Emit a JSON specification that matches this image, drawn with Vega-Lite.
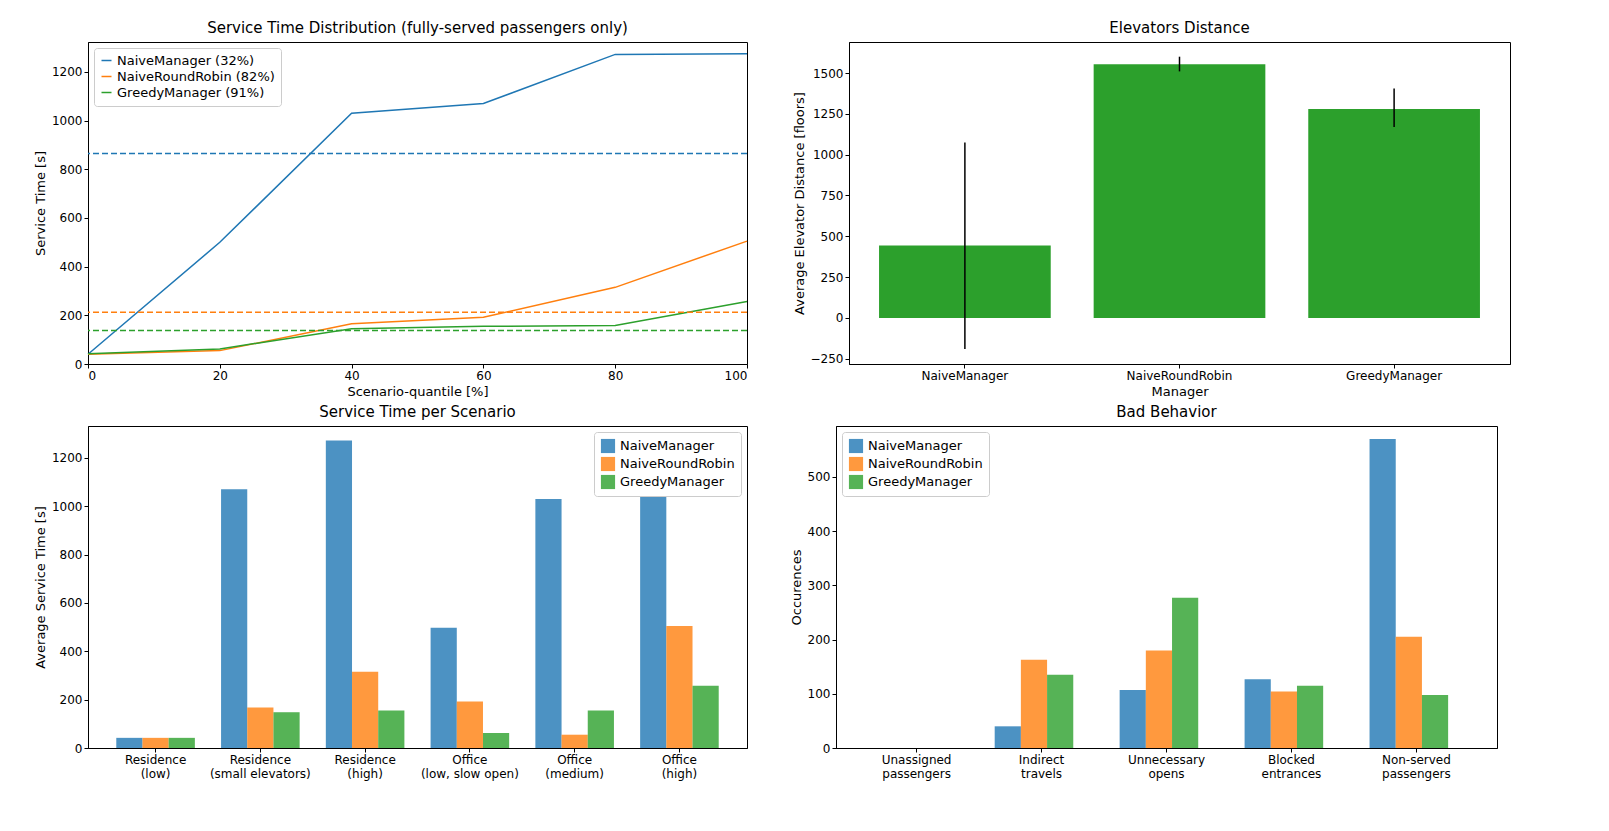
{
  "$schema": "https://vega.github.io/schema/vega-lite/v6.json",
  "padding": {"left": 33, "top": 20, "right": 10, "bottom": 5},
  "background": "white",
  "spacing": 5,
  "config": {
    "font": "DejaVu Sans",
    "view": {"stroke": "black", "strokeWidth": 1},
    "axis": {"grid": false, "domainColor": "black", "tickColor": "black", "labelColor": "black", "titleColor": "black", "labelFontSize": 12, "titleFontSize": 13, "titleFontWeight": "normal", "labelFont": "DejaVu Sans", "titleFont": "DejaVu Sans", "tickSize": 4},
    "title": {"fontSize": 15, "fontWeight": "normal", "font": "DejaVu Sans", "offset": 6},
    "legend": {"labelFontSize": 13, "labelFont": "DejaVu Sans", "fillColor": "white", "strokeColor": "#cccccc", "padding": 6, "cornerRadius": 3, "title": null},
    "concat": {"spacing": 41}
  },
  "datasets": {
    "quant": [
      {"q": 0, "m": "NaiveManager (32%)", "t": 40}, {"q": 20, "m": "NaiveManager (32%)", "t": 500}, {"q": 40, "m": "NaiveManager (32%)", "t": 1030}, {"q": 60, "m": "NaiveManager (32%)", "t": 1070}, {"q": 80, "m": "NaiveManager (32%)", "t": 1272}, {"q": 100, "m": "NaiveManager (32%)", "t": 1275},
      {"q": 0, "m": "NaiveRoundRobin (82%)", "t": 40}, {"q": 20, "m": "NaiveRoundRobin (82%)", "t": 55}, {"q": 40, "m": "NaiveRoundRobin (82%)", "t": 165}, {"q": 60, "m": "NaiveRoundRobin (82%)", "t": 192}, {"q": 80, "m": "NaiveRoundRobin (82%)", "t": 315}, {"q": 100, "m": "NaiveRoundRobin (82%)", "t": 505},
      {"q": 0, "m": "GreedyManager (91%)", "t": 42}, {"q": 20, "m": "GreedyManager (91%)", "t": 62}, {"q": 40, "m": "GreedyManager (91%)", "t": 145}, {"q": 60, "m": "GreedyManager (91%)", "t": 155}, {"q": 80, "m": "GreedyManager (91%)", "t": 158}, {"q": 100, "m": "GreedyManager (91%)", "t": 257}
    ],
    "means": [
      {"m": "NaiveManager (32%)", "t": 865}, {"m": "NaiveRoundRobin (82%)", "t": 213}, {"m": "GreedyManager (91%)", "t": 138}
    ],
    "dist": [
      {"mgr": "NaiveManager", "d": 443, "lo": -190, "hi": 1075},
      {"mgr": "NaiveRoundRobin", "d": 1553, "lo": 1510, "hi": 1600},
      {"mgr": "GreedyManager", "d": 1280, "lo": 1170, "hi": 1405}
    ],
    "scen": [
      {"s": "Residence|(low)", "m": "NaiveManager", "v": 42}, {"s": "Residence|(low)", "m": "NaiveRoundRobin", "v": 42}, {"s": "Residence|(low)", "m": "GreedyManager", "v": 42},
      {"s": "Residence|(small elevators)", "m": "NaiveManager", "v": 1070}, {"s": "Residence|(small elevators)", "m": "NaiveRoundRobin", "v": 168}, {"s": "Residence|(small elevators)", "m": "GreedyManager", "v": 148},
      {"s": "Residence|(high)", "m": "NaiveManager", "v": 1272}, {"s": "Residence|(high)", "m": "NaiveRoundRobin", "v": 315}, {"s": "Residence|(high)", "m": "GreedyManager", "v": 155},
      {"s": "Office|(low, slow open)", "m": "NaiveManager", "v": 497}, {"s": "Office|(low, slow open)", "m": "NaiveRoundRobin", "v": 192}, {"s": "Office|(low, slow open)", "m": "GreedyManager", "v": 62},
      {"s": "Office|(medium)", "m": "NaiveManager", "v": 1030}, {"s": "Office|(medium)", "m": "NaiveRoundRobin", "v": 55}, {"s": "Office|(medium)", "m": "GreedyManager", "v": 155},
      {"s": "Office|(high)", "m": "NaiveManager", "v": 1275}, {"s": "Office|(high)", "m": "NaiveRoundRobin", "v": 505}, {"s": "Office|(high)", "m": "GreedyManager", "v": 257}
    ],
    "bad": [
      {"b": "Unassigned|passengers", "m": "NaiveManager", "v": 0}, {"b": "Unassigned|passengers", "m": "NaiveRoundRobin", "v": 0}, {"b": "Unassigned|passengers", "m": "GreedyManager", "v": 0},
      {"b": "Indirect|travels", "m": "NaiveManager", "v": 40}, {"b": "Indirect|travels", "m": "NaiveRoundRobin", "v": 163}, {"b": "Indirect|travels", "m": "GreedyManager", "v": 135},
      {"b": "Unnecessary|opens", "m": "NaiveManager", "v": 107}, {"b": "Unnecessary|opens", "m": "NaiveRoundRobin", "v": 180}, {"b": "Unnecessary|opens", "m": "GreedyManager", "v": 277},
      {"b": "Blocked|entrances", "m": "NaiveManager", "v": 127}, {"b": "Blocked|entrances", "m": "NaiveRoundRobin", "v": 104}, {"b": "Blocked|entrances", "m": "GreedyManager", "v": 115},
      {"b": "Non-served|passengers", "m": "NaiveManager", "v": 570}, {"b": "Non-served|passengers", "m": "NaiveRoundRobin", "v": 205}, {"b": "Non-served|passengers", "m": "GreedyManager", "v": 98}
    ]
  },
  "vconcat": [
    {
      "hconcat": [
        {
          "width": 659, "height": 322,
          "title": "Service Time Distribution (fully-served passengers only)",
          "layer": [
            {
              "data": {"name": "quant"},
              "mark": {"type": "line", "strokeWidth": 1.5},
              "encoding": {
                "x": {"field": "q", "type": "quantitative", "scale": {"domain": [0, 100], "nice": false}, "axis": {"values": [0, 20, 40, 60, 80, 100]}, "title": "Scenario-quantile [%]"},
                "y": {"field": "t", "type": "quantitative", "scale": {"domain": [0, 1323], "nice": false}, "axis": {"values": [0, 200, 400, 600, 800, 1000, 1200], "format": "d"}, "title": "Service Time [s]"},
                "color": {"field": "m", "type": "nominal", "sort": ["NaiveManager (32%)", "NaiveRoundRobin (82%)", "GreedyManager (91%)"], "scale": {"domain": ["NaiveManager (32%)", "NaiveRoundRobin (82%)", "GreedyManager (91%)"], "range": ["#1f77b4", "#ff7f0e", "#2ca02c"]}, "legend": {"orient": "top-left", "symbolType": "stroke", "symbolStrokeWidth": 1.5, "offset": 6}}
              }
            },
            {
              "data": {"name": "means"},
              "mark": {"type": "rule", "strokeDash": [6, 3], "strokeWidth": 1.5},
              "encoding": {
                "y": {"field": "t", "type": "quantitative"},
                "color": {"field": "m", "type": "nominal"}
              }
            }
          ]
        },
        {
          "width": 661, "height": 322,
          "title": "Elevators Distance",
          "data": {"name": "dist"},
          "encoding": {
            "x": {"field": "mgr", "type": "nominal", "sort": null, "scale": {"paddingInner": 0.2, "paddingOuter": 0.14}, "axis": {"labelAngle": 0}, "title": "Manager"}
          },
          "layer": [
            {
              "mark": {"type": "bar", "color": "#2ca02c"},
              "encoding": {"y": {"field": "d", "type": "quantitative", "scale": {"domain": [-282, 1690], "nice": false}, "axis": {"values": [-250, 0, 250, 500, 750, 1000, 1250, 1500], "format": "d"}, "title": "Average Elevator Distance [floors]"}}
            },
            {
              "mark": {"type": "rule", "color": "black", "strokeWidth": 1.5},
              "encoding": {"y": {"field": "lo", "type": "quantitative"}, "y2": {"field": "hi"}}
            }
          ]
        }
      ]
    },
    {
      "hconcat": [
        {
          "width": 659, "height": 322,
          "title": "Service Time per Scenario",
          "data": {"name": "scen"},
          "mark": {"type": "bar", "opacity": 0.8},
          "encoding": {
            "x": {"field": "s", "type": "nominal", "sort": null, "scale": {"paddingInner": 0.25, "paddingOuter": 0.27}, "axis": {"labelAngle": 0, "labelExpr": "split(datum.label, '|')"}, "title": null},
            "xOffset": {"field": "m", "type": "nominal", "sort": ["NaiveManager", "NaiveRoundRobin", "GreedyManager"]},
            "y": {"field": "v", "type": "quantitative", "scale": {"domain": [0, 1332], "nice": false}, "axis": {"values": [0, 200, 400, 600, 800, 1000, 1200], "format": "d"}, "title": "Average Service Time [s]"},
            "color": {"field": "m", "type": "nominal", "scale": {"domain": ["NaiveManager", "NaiveRoundRobin", "GreedyManager"], "range": ["#1f77b4", "#ff7f0e", "#2ca02c"]}, "legend": {"orient": "top-right", "symbolType": "square", "symbolSize": 200, "offset": 6, "symbolOpacity": 0.8}}
          }
        },
        {
          "width": 661, "height": 322,
          "title": "Bad Behavior",
          "data": {"name": "bad"},
          "mark": {"type": "bar", "opacity": 0.8},
          "encoding": {
            "x": {"field": "b", "type": "nominal", "sort": null, "scale": {"paddingInner": 0.25, "paddingOuter": 0.27}, "axis": {"labelAngle": 0, "labelExpr": "split(datum.label, '|')"}, "title": null},
            "xOffset": {"field": "m", "type": "nominal", "sort": ["NaiveManager", "NaiveRoundRobin", "GreedyManager"]},
            "y": {"field": "v", "type": "quantitative", "scale": {"domain": [0, 594], "nice": false}, "axis": {"values": [0, 100, 200, 300, 400, 500], "format": "d"}, "title": "Occurences"},
            "color": {"field": "m", "type": "nominal", "scale": {"domain": ["NaiveManager", "NaiveRoundRobin", "GreedyManager"], "range": ["#1f77b4", "#ff7f0e", "#2ca02c"]}, "legend": {"orient": "top-left", "symbolType": "square", "symbolSize": 200, "offset": 6, "symbolOpacity": 0.8}}
          }
        }
      ]
    }
  ],
  "resolve": {"scale": {"color": "independent"}}
}
